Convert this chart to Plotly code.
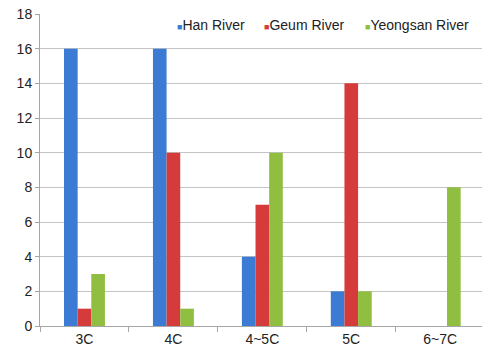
import plotly.graph_objects as go

categories = ["3C", "4C", "4~5C", "5C", "6~7C"]
han_river = [16, 16, 4, 2, 0]
geum_river = [1, 10, 7, 14, 0]
yeongsan_river = [3, 1, 10, 2, 8]

series = [
    ("Han River", han_river, "#3B7BD4"),
    ("Geum River", geum_river, "#D63B3B"),
    ("Yeongsan River", yeongsan_river, "#8FBE40"),
]

fig = go.Figure()
for name, values, color in series:
    fig.add_trace(go.Bar(
        x=categories, y=values, name=name, showlegend=False,
        marker=dict(color=color, line=dict(width=0)),
    ))

# compact legend: small coloured square right before each label
legend_x = [0.305, 0.502, 0.73]
for (name, _, color), lx in zip(series, legend_x):
    fig.add_annotation(
        x=lx, y=0.965, xref="paper", yref="paper",
        xanchor="left", yanchor="middle", showarrow=False,
        text=f"<span style='color:{color};font-size:9px'>■</span>{name}",
        font=dict(size=14, color="#222"),
    )

fig.update_layout(
    width=482, height=347,
    margin=dict(l=40, r=0, t=14, b=21),
    paper_bgcolor="white", plot_bgcolor="white",
    barmode="group", bargap=0.54, bargroupgap=0,
    font=dict(family="Liberation Sans, Arial, sans-serif", size=14, color="#222"),
    showlegend=False,
)
fig.update_xaxes(
    type="category", range=[-0.5, 4.47],
    showline=True, linecolor="#a6a6a6", linewidth=1,
    ticks="outside", tickson="boundaries", ticklen=5, tickcolor="#a6a6a6",
    showgrid=False,
)
fig.update_yaxes(
    range=[0, 18], dtick=2,
    showline=True, linecolor="#a6a6a6", linewidth=1,
    ticks="outside", ticklen=4, tickcolor="#a6a6a6",
    gridcolor="#c4c4c4", gridwidth=1, zeroline=False,
)

fig.write_html("out.html")
